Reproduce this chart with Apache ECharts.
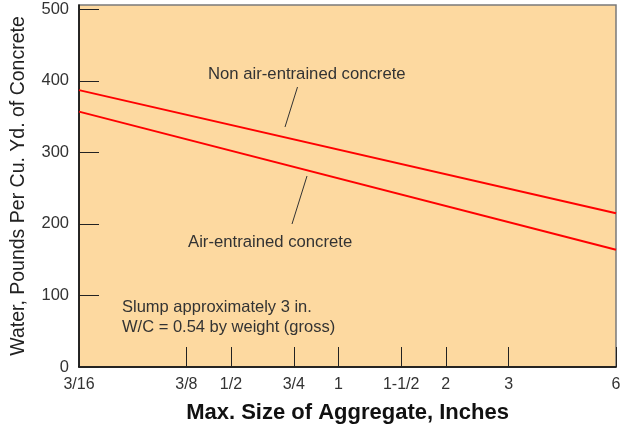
<!DOCTYPE html>
<html>
<head>
<meta charset="utf-8">
<script src="https://cdn.jsdelivr.net/npm/echarts@6/dist/echarts.min.js"></script>
<style>html,body{margin:0;padding:0;background:#fff;}#c{width:621px;height:429px;}</style>
</head>
<body>
<div id="c"></div>
<script>
// Aggregate size (inches) at the ends of each line
var sizes = [0.1875, 6];
var nonAirEntrained = [387, 215];
var airEntrained = [357, 164];
var xTickValues = [0.1875, 0.375, 0.5, 0.75, 1, 1.5, 2, 3, 6];
var xTickLabels = ['3/16', '3/8', '1/2', '3/4', '1', '1-1/2', '2', '3', '6'];
var yTickValues = [0, 100, 200, 300, 400, 500];

var FONT = '"Liberation Sans", Arial, Helvetica, sans-serif';
var chart = echarts.init(document.getElementById('c'));

function pairs(xs, ys) { return xs.map(function (x, i) { return [x, ys[i]]; }); }

chart.setOption({
  animation: false,
  grid: {
    left: 79, right: 5, top: 5, bottom: 62,
    outerBoundsMode: 'none', containLabel: false,
    show: true, backgroundColor: '#FDD9A0', borderColor: '#7a7a7a', borderWidth: 1.5
  },
  xAxis: {
    type: 'log', logBase: 2, min: 0.1875, max: 6,
    name: 'Max. Size of Aggregate, Inches', nameLocation: 'middle', nameGap: 35,
    nameTextStyle: { fontFamily: FONT, fontSize: 22, fontWeight: 'bold', color: '#111' },
    axisLine: { lineStyle: { color: '#000', width: 1.5 } },
    axisTick: { show: true, inside: true, length: 20, customValues: xTickValues, lineStyle: { color: '#222', width: 1 } },
    axisLabel: {
      customValues: xTickValues, margin: 10, fontFamily: FONT, fontSize: 16, color: '#333',
      formatter: function (v) {
        for (var i = 0; i < xTickValues.length; i++) if (Math.abs(xTickValues[i] - v) < 1e-6) return xTickLabels[i];
        return '';
      }
    },
    splitLine: { show: false }, minorTick: { show: false }
  },
  yAxis: {
    type: 'value', min: 0, max: 506,
    name: 'Water, Pounds Per Cu. Yd. of Concrete', nameLocation: 'middle', nameGap: 50,
    nameTextStyle: { fontFamily: FONT, fontSize: 19.5, color: '#222' },
    axisLine: { show: true, lineStyle: { color: '#000', width: 1.5 } },
    axisTick: { show: true, inside: true, length: 20, customValues: yTickValues, lineStyle: { color: '#222', width: 1 } },
    axisLabel: { customValues: yTickValues, margin: 10, fontFamily: FONT, fontSize: 16.5, color: '#333' },
    splitLine: { show: false }
  },
  series: [
    { type: 'line', name: 'Non air-entrained concrete', data: pairs(sizes, nonAirEntrained), symbol: 'none',
      lineStyle: { color: '#FF0000', width: 2 } },
    { type: 'line', name: 'Air-entrained concrete', data: pairs(sizes, airEntrained), symbol: 'none',
      lineStyle: { color: '#FF0000', width: 2 } }
  ],
  graphic: [
    { type: 'text', left: 208, top: 66, style: { text: 'Non air-entrained concrete', font: '16.7px ' + FONT, fill: '#333' } },
    { type: 'line', shape: { x1: 297.5, y1: 87, x2: 285, y2: 127 }, style: { stroke: '#333', lineWidth: 1 } },
    { type: 'text', left: 188, top: 234, style: { text: 'Air-entrained concrete', font: '16.7px ' + FONT, fill: '#333' } },
    { type: 'line', shape: { x1: 307, y1: 176, x2: 292, y2: 224 }, style: { stroke: '#333', lineWidth: 1 } },
    { type: 'text', left: 122, top: 298, style: { text: 'Slump approximately 3 in.\nW/C = 0.54 by weight (gross)', font: '16.5px ' + FONT, fill: '#333', lineHeight: 19.5 } }
  ]
});
</script>
</body>
</html>
